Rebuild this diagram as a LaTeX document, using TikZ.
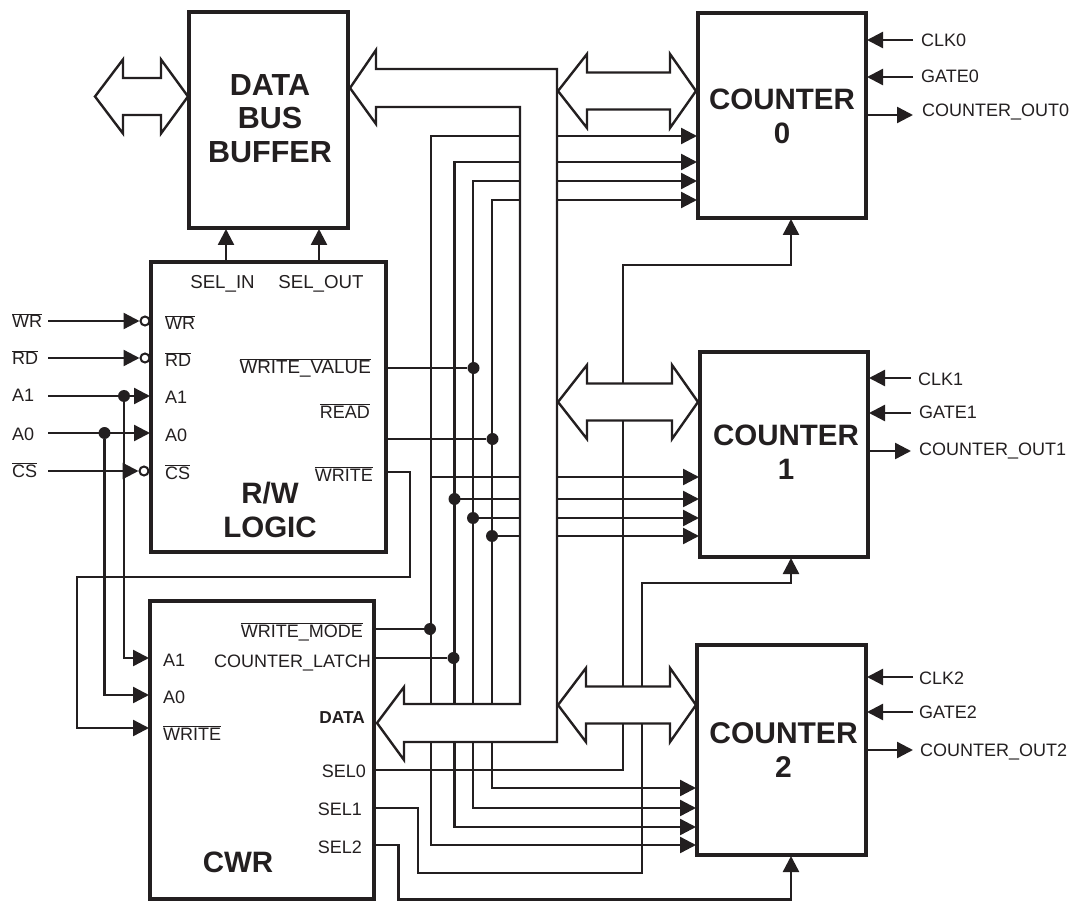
\documentclass[tikz,border=0pt]{standalone}
\usepackage{fontspec}
\setmainfont{Liberation Sans}
\usepackage{tikz}
\usetikzlibrary{arrows.meta,positioning,calc}
\definecolor{Ink}{HTML}{231F20}
\newcommand{\ovl}[1]{$\overline{\hbox{#1}}$}

\begin{document}
\begin{tikzpicture}[
    x=1pt,y=-1pt,
    every node/.style={text=Ink},
    block/.style={draw=Ink,line width=4pt,outer sep=0pt},
    title/.style={inner sep=0pt,align=center,font=\fontsize{29.5}{33.5}\selectfont\bfseries},
    lft/.style={inner sep=0pt,anchor=base west,font=\fontsize{18}{20}\selectfont},
    rgt/.style={inner sep=0pt,anchor=base east,font=\fontsize{18}{20}\selectfont},
    wire/.style={draw=Ink,line width=2.4pt},
    arrow/.style={wire,-{Triangle[length=16pt,width=16pt]},shorten >=1pt},
    twoway/.style={wire,{Triangle[length=16pt,width=16pt]}-{Triangle[length=16pt,width=16pt]},shorten >=1pt,shorten <=1pt},
    bus/.style={draw=Ink,line width=2.4pt,fill=white,line join=miter},
    junction/.style={circle,fill=Ink,draw=none,inner sep=0pt,minimum size=12pt},
    bubble/.style={circle,draw=Ink,fill=white,line width=2pt,inner sep=0pt,minimum size=9pt,outer sep=0pt}
]
\useasboundingbox (0,0) rectangle (1077,901);
% blocks
\node[block,minimum width=159pt,minimum height=216pt] (buffer) at (268.5,120) {};
\node[block,minimum width=235pt,minimum height=290pt] (rw) at (268.5,407) {};
\node[block,minimum width=224pt,minimum height=298pt] (cwr) at (262,750) {};
\node[block,minimum width=168pt,minimum height=205pt] (counter0) at (782,115.5) {};
\node[block,minimum width=168pt,minimum height=205pt] (counter1) at (784,454.5) {};
\node[block,minimum width=169pt,minimum height=210pt] (counter2) at (781.5,750) {};
\node[title,font=\fontsize{30.5}{33.5}\selectfont\bfseries] (buffertitle) at (270,118.5) {DATA\\BUS\\BUFFER};
\node[title] (counter0title) at (782,116.5) {COUNTER\\0};
\node[title] (counter1title) at (786,452) {COUNTER\\1};
\node[title,font=\fontsize{30}{33.5}\selectfont\bfseries] (counter2title) at (783.5,750) {COUNTER\\2};
\node[title] (rwtitle) at (270,510) {R/W\\LOGIC};
\node[title] (cwrtitle) at (238,862) {CWR};

% left inputs
\node[lft] (lwr) at (12,328) {\ovl{WR}};
\node[lft] (lrd) at (12,365) {\ovl{RD}};
\node[lft] (la1) at (12,402) {A1};
\node[lft] (la0) at (12,440) {A0};
\node[lft] (lcs) at (12,477) {\ovl{CS}};
\coordinate (inwr) at (48,321);
\coordinate (inrd) at (48,358);
\coordinate (ina1) at (48,396);
\coordinate (ina0) at (48,433);
\coordinate (incs) at (48,471);
\node[bubble] (nwr) at (145,321) {};
\node[bubble] (nrd) at (145,358) {};
\node[bubble] (ncs) at (144,471) {};
\node[junction] (da1) at (124,396) {};
\node[junction] (da0) at (104.5,433) {};
\draw[arrow] (inwr) -- (nwr.west);
\draw[arrow] (inrd) -- (nrd.west);
\draw[arrow] (incs) -- (ncs.west);
\draw[arrow] (ina1) -- (ina1 -| rw.west);
\draw[arrow] (ina0) -- (ina0 -| rw.west);
\coordinate (ca1) at (124,658);
\coordinate (ca0) at (104.5,695);
\draw[arrow] (da1) -- (ca1) -- (ca1 -| cwr.west);
\draw[arrow] (da0) -- (ca0) -- (ca0 -| cwr.west);

% counter lines, the buses below hide their middle parts
\foreach \x/\ya/\yb/\yc [count=\n] in {431/136/477/845,454.5/162/499/827,473/181/518/808,492/200/536/788}{
    \coordinate (ta\n) at (\x,\ya);
    \coordinate (tb\n) at (\x,\yb);
    \coordinate (tc\n) at (\x,\yc);
    \draw[twoway] (ta\n -| counter0.west) -- (ta\n) -- (tc\n) -- (tc\n -| counter2.west);
    \draw[arrow] (tb\n) -- (tb\n -| counter1.west);
}
\foreach \n in {2,3,4}{\node[junction] at (tb\n) {};}

% rw outputs
\coordinate (owv) at (rw.east |- 0,368);
\coordinate (ord) at (rw.east |- 0,439);
\coordinate (owr) at (rw.east |- 0,472);
\node[junction] (dwv) at (473.5,368) {};
\node[junction] (drd) at (492.5,439) {};
\draw[wire] (owv) -- (dwv);
\draw[wire] (ord) -- (drd);
\coordinate (w1) at (410,472);
\coordinate (w2) at (410,577);
\coordinate (w3) at (77,577);
\coordinate (w4) at (77,728);
\draw[arrow] (owr) -- (w1) -- (w2) -- (w3) -- (w4) -- (w4 -| cwr.west);

% cwr outputs
\node[junction] (dwm) at (430,629) {};
\node[junction] (dcl) at (453.5,658) {};
\draw[wire] (cwr.east |- dwm) -- (dwm);
\draw[wire] (cwr.east |- dcl) -- (dcl);
\coordinate (s0) at (cwr.east |- 0,770);
\coordinate (s0a) at (623,770);
\coordinate (s0b) at (623,265);
\coordinate (s0c) at (791,265);
\draw[arrow] (s0) -- (s0a) -- (s0b) -- (s0c) -- (s0c |- counter0.south);
\coordinate (s1) at (cwr.east |- 0,808);
\coordinate (s1a) at (418,808);
\coordinate (s1b) at (418,873);
\coordinate (s1c) at (642,873);
\coordinate (s1d) at (642,583);
\coordinate (s1e) at (791,583);
\draw[arrow] (s1) -- (s1a) -- (s1b) -- (s1c) -- (s1d) -- (s1e) -- (s1e |- counter1.south);
\coordinate (s2) at (cwr.east |- 0,845);
\coordinate (s2a) at (398.5,845);
\coordinate (s2b) at (398.5,899.5);
\coordinate (s2c) at (791,899.5);
\draw[arrow] (s2) -- (s2a) -- (s2b) -- (s2c) -- (s2c |- counter2.south);

% buffer select lines
\coordinate (selin) at (226,262);
\coordinate (selout) at (319,262);
\draw[arrow] (selin) -- (selin |- buffer.south);
\draw[arrow] (selout) -- (selout |- buffer.south);

% buses
\draw[bus] (350,88) -- (376,50) -- (376,69) -- (557,69) -- (557,742) -- (404,742) -- (404,760)
    -- (377,723) -- (404,687) -- (404,704) -- (520,704) -- (520,107) -- (376,107) -- (376,124) -- cycle;
\foreach \xa/\xb/\xc/\xd/\yc in {95/123/161/188/96.5,558/587/670/696/91,558/587/672/698/402,558/586/670/696/705}{
    \draw[bus] (\xa,\yc) -- (\xb,\yc-37) -- (\xb,\yc-18.5) -- (\xc,\yc-18.5) -- (\xc,\yc-37) -- (\xd,\yc)
        -- (\xc,\yc+37) -- (\xc,\yc+18.5) -- (\xb,\yc+18.5) -- (\xb,\yc+37) -- cycle;
}

% counter pins
\foreach \c/\n/\ya/\yb/\yo/\xe/\xa/\xb/\xo/\yl in {counter0/0/40/77/115/913/921/921/922/117,counter1/1/378/413/451/911/918/919/919/455,counter2/2/677/712/750/913/919/919/920/756}{
    \coordinate (clk\n) at (\xe,\ya);
    \coordinate (gate\n) at (\xe,\yb);
    \coordinate (out\n) at (\xe,\yo);
    \draw[arrow] (clk\n) -- (clk\n -| \c.east);
    \draw[arrow] (gate\n) -- (gate\n -| \c.east);
    \draw[arrow,shorten >=0pt] (out\n -| \c.east) -- (out\n);
    \node[lft] (lclk\n) at (\xa,\ya+7) {CLK\n};
    \node[lft] (lgate\n) at (\xb,\yb+6) {GATE\n};
    \node[lft] (lout\n) at (\xo,\yl) {COUNTER\_OUT\n};
}

% texts in blocks
\node[rgt,anchor=base,font=\fontsize{18.7}{20}\selectfont] (tselin) at (222.5,289) {SEL\_IN};
\node[rgt,anchor=base,font=\fontsize{18.7}{20}\selectfont] (tselout) at (321,289) {SEL\_OUT};
\node[lft] (iwr) at (165,330) {\ovl{WR}};
\node[lft] (ird) at (165,367) {\ovl{RD}};
\node[lft] (ia1) at (165,404) {A1};
\node[lft] (ia0) at (165,442) {A0};
\node[lft] (ics) at (165,479) {\ovl{CS}};
\node[rgt,font=\fontsize{18.8}{20}\selectfont] (twv) at (371,374) {\ovl{WRITE\_VALUE}};
\node[rgt] (trd) at (370,418) {\ovl{READ}};
\node[rgt] (twr) at (373,481) {\ovl{WRITE}};
\node[lft] (ca1t) at (163,666) {A1};
\node[lft] (ca0t) at (163,703) {A0};
\node[lft] (cwt) at (163,740) {\ovl{WRITE}};
\node[rgt] (twm) at (363,637) {\ovl{WRITE\_MODE}};
\node[rgt] (tcl) at (371,667) {COUNTER\_LATCH};
\node[rgt,font=\fontsize{17.3}{18}\selectfont\bfseries] (tdata) at (365,723) {DATA};
\node[rgt] (ts0) at (366,777) {SEL0};
\node[rgt] (ts1) at (362,815) {SEL1};
\node[rgt] (ts2) at (362,853) {SEL2};
\end{tikzpicture}
\end{document}
